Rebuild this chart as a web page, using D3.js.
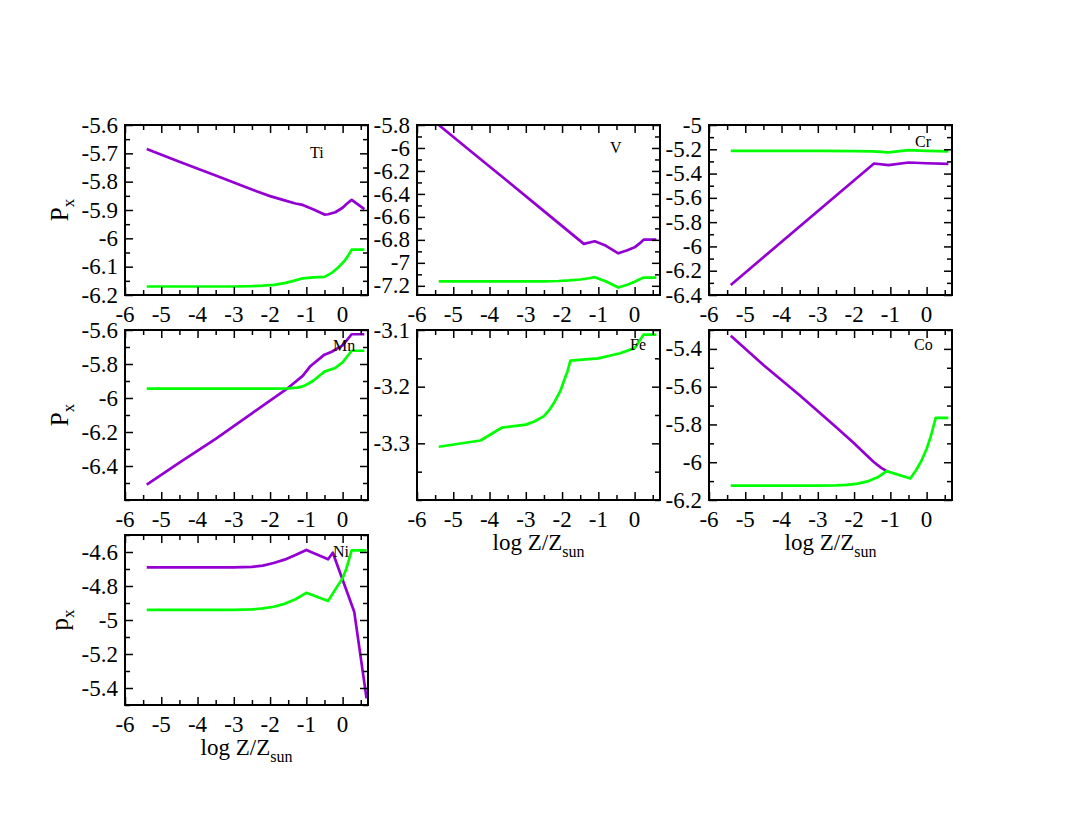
<!DOCTYPE html>
<html><head><meta charset="utf-8">
<script src="https://cdn.jsdelivr.net/npm/d3@7"></script>
<style>
body{margin:0;background:#fff}
svg{display:block}
text{font-family:"Liberation Serif","Times New Roman",serif}
</style>
</head><body>
<svg id="c" width="1075" height="830"></svg>
<script>
// ---------- data ----------
const xTicks = [-6, -5, -4, -3, -2, -1, 0];
const xMinorTicks = [-5.5, -4.5, -3.5, -2.5, -1.5, -0.5, 0.5];

// Ti
const tiYTicks = [-6.2, -6.1, -6, -5.9, -5.8, -5.7, -5.6];
const tiVioletX = [-5.4, -4.5, -3.5, -2.5, -2, -1.6, -1.3, -1.1, -0.8, -0.5, -0.4, -0.2, 0, 0.1, 0.25, 0.6];
const tiViolet  = [-5.685, -5.73, -5.778, -5.828, -5.851, -5.866, -5.877, -5.882, -5.898, -5.916, -5.915, -5.908, -5.892, -5.880, -5.864, -5.897];
const tiGreenX  = [-5.4, -4, -3, -2.5, -2.2, -1.9, -1.6, -1.35, -1.1, -0.8, -0.5, -0.3, -0.1, 0.05, 0.15, 0.25, 0.6];
const tiGreen   = [-6.170, -6.170, -6.170, -6.169, -6.167, -6.164, -6.158, -6.150, -6.141, -6.138, -6.136, -6.122, -6.100, -6.080, -6.062, -6.040, -6.040];

// V
const vYTicks = [-7.2, -7, -6.8, -6.6, -6.4, -6.2, -6, -5.8];
const vVioletX = [-5.4, -4.5, -3.5, -2.5, -1.4, -1.1, -0.8, -0.45, -0.2, 0, 0.12, 0.25, 0.6];
const vViolet  = [-5.80, -6.033, -6.29, -6.55, -6.835, -6.812, -6.85, -6.917, -6.89, -6.865, -6.835, -6.798, -6.798];
const vGreenX  = [-5.4, -3, -2.5, -2.1, -1.8, -1.5, -1.25, -1.1, -0.8, -0.45, -0.2, 0, 0.25, 0.6];
const vGreen   = [-7.162, -7.162, -7.161, -7.158, -7.153, -7.145, -7.134, -7.125, -7.16, -7.215, -7.19, -7.165, -7.128, -7.128];

// Cr
const crYTicks = [-6.4, -6.2, -6, -5.8, -5.6, -5.4, -5.2, -5];
const crVioletX = [-5.4, -4.5, -3.5, -2.5, -1.45, -1.05, -0.5, 0, 0.6];
const crViolet  = [-6.317, -6.089, -5.836, -5.583, -5.317, -5.331, -5.309, -5.315, -5.32];
const crGreenX  = [-5.4, -3, -2, -1.5, -1.05, -0.5, 0, 0.6];
const crGreen   = [-5.213, -5.213, -5.215, -5.218, -5.226, -5.207, -5.213, -5.218];

// Mn
const mnYTicks = [-6.4, -6.2, -6, -5.8, -5.6];
const mnVioletX = [-5.4, -4.5, -3.5, -2.5, -2, -1.5, -1.1, -0.9, -0.5, -0.3, 0, 0.25, 0.6];
const mnViolet  = [-6.51, -6.38, -6.24, -6.09, -6.015, -5.94, -5.87, -5.815, -5.745, -5.728, -5.69, -5.625, -5.625];
const mnGreenX  = [-5.4, -3, -2, -1.5, -1.25, -1.1, -0.95, -0.8, -0.5, -0.2, 0, 0.25, 0.6];
const mnGreen   = [-5.945, -5.945, -5.945, -5.943, -5.939, -5.932, -5.916, -5.897, -5.845, -5.823, -5.79, -5.722, -5.722];

// Fe
const feYTicks = [-3.3, -3.2, -3.1];
const feGreenX = [-5.4, -4.25, -3.65, -3, -2.75, -2.5, -2.35, -2.2, -2.05, -1.95, -1.85, -1.77, -1, -0.4, 0, 0.25, 0.6];
const feGreen  = [-3.306, -3.295, -3.272, -3.267, -3.261, -3.252, -3.241, -3.226, -3.208, -3.19, -3.173, -3.154, -3.150, -3.141, -3.132, -3.108, -3.108];

// Co
const coYTicks = [-6.2, -6, -5.8, -5.6, -5.4];
const coVioletX = [-5.4, -4.5, -3.5, -2.5, -2, -1.7, -1.45, -1.25, -1.1];
const coViolet  = [-5.33, -5.485, -5.645, -5.813, -5.9, -5.955, -6.0, -6.03, -6.047];
const coGreenX  = [-5.4, -3, -2.5, -2.2, -1.9, -1.6, -1.35, -1.1, -0.45, -0.3, -0.15, 0, 0.12, 0.25, 0.6];
const coGreen   = [-6.124, -6.124, -6.123, -6.12, -6.113, -6.1, -6.08, -6.047, -6.086, -6.045, -5.995, -5.93, -5.86, -5.765, -5.765];

// Ni
const niYTicks = [-5.4, -5.2, -5, -4.8, -4.6];
const niVioletX = [-5.4, -3, -2.5, -2.2, -1.9, -1.6, -1.3, -1.0, -0.4, -0.27, 0.32, 0.66];
const niViolet  = [-4.690, -4.690, -4.687, -4.68, -4.665, -4.645, -4.618, -4.588, -4.643, -4.604, -4.951, -5.461];
const niGreenX  = [-5.4, -3, -2.5, -2.2, -1.9, -1.6, -1.3, -1.0, -0.4, -0.2, 0, 0.1, 0.25, 0.66];
const niGreen   = [-4.941, -4.941, -4.938, -4.932, -4.922, -4.905, -4.878, -4.84, -4.888, -4.82, -4.755, -4.70, -4.59, -4.59];

// ---------- style / layout ----------
const VIOLET = "#9400d3", GREEN = "#00ff00";
const colX = [125, 417, 709], rowY = [125, 330, 535];
const PW = 243, PH = 170;
const xDomain = [-6, 0.7];
const SERIF = '"Liberation Serif","Times New Roman",serif';
const FS = 23;

const panels = [
  {name:"Ti", col:0, row:0, yDom:[-6.2,-5.6], yMinorStep:0.05, yTicks:tiYTicks, ytitle:"P", lab:[-58,33],
   series:[{x:tiVioletX,y:tiViolet,c:VIOLET},{x:tiGreenX,y:tiGreen,c:GREEN}]},
  {name:"V", col:1, row:0, yDom:[-7.28,-5.8], yMinorStep:0.1, yTicks:vYTicks, lab:[-50,28],
   series:[{x:vVioletX,y:vViolet,c:VIOLET},{x:vGreenX,y:vGreen,c:GREEN}]},
  {name:"Cr", col:2, row:0, yDom:[-6.4,-5.0], yMinorStep:0.1, yTicks:crYTicks, lab:[-37,22],
   series:[{x:crVioletX,y:crViolet,c:VIOLET},{x:crGreenX,y:crGreen,c:GREEN}]},
  {name:"Mn", col:0, row:1, yDom:[-6.6,-5.6], yMinorStep:0.1, yTicks:mnYTicks, ytitle:"P", lab:[-35,21],
   series:[{x:mnVioletX,y:mnViolet,c:VIOLET},{x:mnGreenX,y:mnGreen,c:GREEN}]},
  {name:"Fe", col:1, row:1, yDom:[-3.4,-3.1], yMinorStep:0.05, yTicks:feYTicks, xtitle:true, lab:[-30,20],
   series:[{x:feGreenX,y:feGreen,c:GREEN}]},
  {name:"Co", col:2, row:1, yDom:[-6.2,-5.3], yMinorStep:0.1, yTicks:coYTicks, xtitle:true, lab:[-38,20],
   series:[{x:coVioletX,y:coViolet,c:VIOLET},{x:coGreenX,y:coGreen,c:GREEN}]},
  {name:"Ni", col:0, row:2, yDom:[-5.5,-4.5], yMinorStep:0.1, yTicks:niYTicks, ytitle:"p", xtitle:true, lab:[-35,22],
   series:[{x:niVioletX,y:niViolet,c:VIOLET},{x:niGreenX,y:niGreen,c:GREEN}]}
];

const svg = d3.select("#c");
const fmt = v => String(+v.toFixed(3));

function minorTicks(dom, step, majors){
  const out = [];
  const lo = Math.ceil(dom[0]/step - 1e-6), hi = Math.floor(dom[1]/step + 1e-6);
  for (let k = lo; k <= hi; k++){
    const v = +(k*step).toFixed(4);
    if (!majors.some(m => Math.abs(m - v) < 1e-6)) out.push(v);
  }
  return out;
}

function styleAxis(g){
  g.select(".domain").remove();
  g.selectAll(".tick line").attr("stroke","#000").attr("stroke-width",1.5);
  g.selectAll(".tick text").remove();
}

panels.forEach(p => {
  const x0 = colX[p.col], y0 = rowY[p.row];
  const x = d3.scaleLinear().domain(xDomain).range([0, PW]);
  const y = d3.scaleLinear().domain(p.yDom).range([PH, 0]);
  const g = svg.append("g").attr("transform", `translate(${x0},${y0})`);

  const clipId = "clip" + p.name;
  g.append("clipPath").attr("id", clipId).append("rect").attr("width", PW).attr("height", PH);

  const line = d3.line().x(d => x(d[0])).y(d => y(d[1]));
  p.series.forEach(s => {
    const pts = s.x.map((v,i) => [v, s.y[i]]);
    g.append("path").datum(pts).attr("d", line)
      .attr("fill","none").attr("stroke", s.c).attr("stroke-width", 2.7)
      .attr("stroke-linejoin","round").attr("clip-path", `url(#${clipId})`);
  });

  const yMin = minorTicks(p.yDom, p.yMinorStep, p.yTicks);

  // ticks on all four sides, pointing inward
  g.append("g").call(d3.axisLeft(y).tickValues(p.yTicks).tickSize(-8)).call(styleAxis);
  g.append("g").call(d3.axisLeft(y).tickValues(yMin).tickSize(-5)).call(styleAxis);
  g.append("g").attr("transform",`translate(${PW},0)`).call(d3.axisRight(y).tickValues(p.yTicks).tickSize(-8)).call(styleAxis);
  g.append("g").attr("transform",`translate(${PW},0)`).call(d3.axisRight(y).tickValues(yMin).tickSize(-5)).call(styleAxis);
  g.append("g").attr("transform",`translate(0,${PH})`).call(d3.axisBottom(x).tickValues(xTicks).tickSize(-8)).call(styleAxis);
  g.append("g").attr("transform",`translate(0,${PH})`).call(d3.axisBottom(x).tickValues(xMinorTicks).tickSize(-5)).call(styleAxis);
  g.append("g").call(d3.axisTop(x).tickValues(xTicks).tickSize(-8)).call(styleAxis);
  g.append("g").call(d3.axisTop(x).tickValues(xMinorTicks).tickSize(-5)).call(styleAxis);

  // tick labels
  g.append("g").selectAll("text").data(p.yTicks).join("text")
    .attr("x", -7).attr("y", d => y(d)).attr("dy", "0.33em")
    .attr("text-anchor", "end")
    .attr("font-family", SERIF).attr("font-size", FS)
    .style("font-family", SERIF).style("font-size", FS + "px")
    .text(fmt);
  g.append("g").selectAll("text").data(xTicks).join("text")
    .attr("x", d => x(d)).attr("y", PH + 27)
    .attr("text-anchor", "middle")
    .attr("font-family", SERIF).attr("font-size", FS)
    .style("font-family", SERIF).style("font-size", FS + "px")
    .text(fmt);

  g.append("rect").attr("width", PW).attr("height", PH)
    .attr("fill","none").attr("stroke","#000").attr("stroke-width",2);

  g.append("text").attr("x", PW + p.lab[0]).attr("y", p.lab[1])
    .style("font-size","16px").text(p.name);

  if (p.ytitle){
    const t = svg.append("text")
      .attr("transform", `translate(${x0-57},${y0+PH/2}) rotate(-90)`)
      .attr("text-anchor","middle").style("font-size","25px");
    t.append("tspan").text(p.ytitle);
    t.append("tspan").attr("dy", 6).style("font-size","17px").text("x");
  }
  if (p.xtitle){
    const t = svg.append("text")
      .attr("x", x0 + PW/2).attr("y", y0 + PH + 50)
      .attr("text-anchor","middle").style("font-size","23px");
    t.append("tspan").text("log Z/Z");
    t.append("tspan").attr("dy", 7).style("font-size","16px").text("sun");
  }
});
</script>
</body></html>
